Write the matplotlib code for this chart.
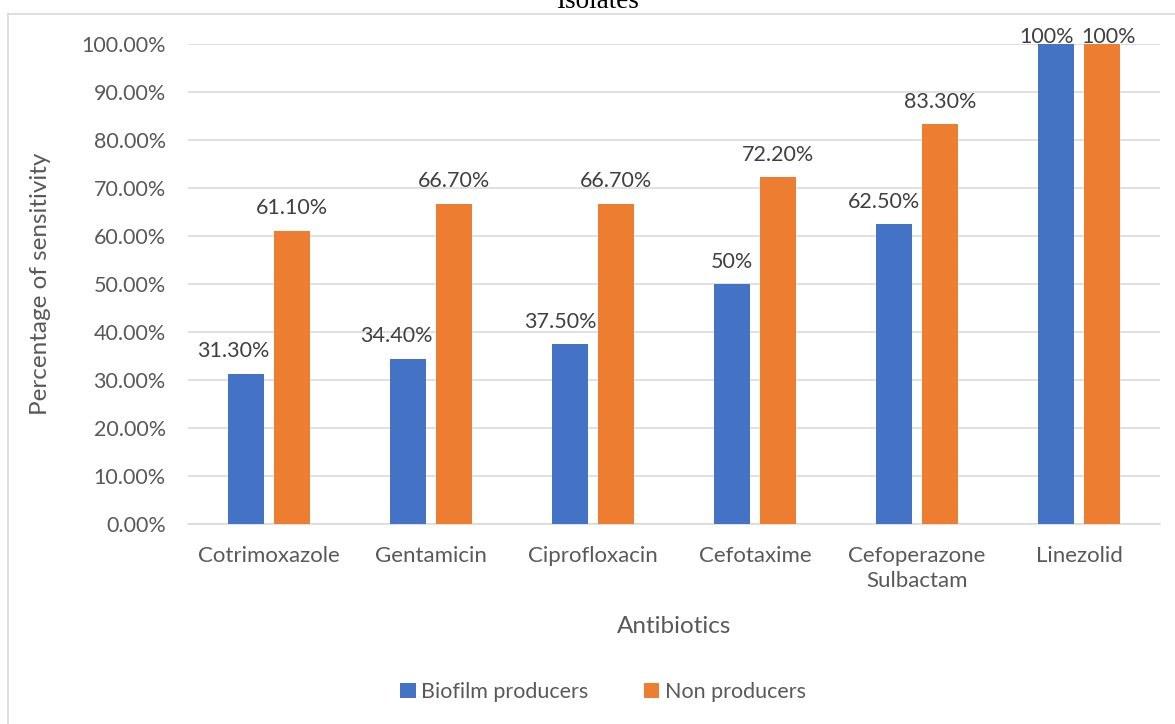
import matplotlib.pyplot as plt
import numpy as np
from matplotlib.lines import Line2D

# sensitivity (%) per antibiotic
antibiotics = ['Cotrimoxazole', 'Gentamicin', 'Ciprofloxacin', 'Cefotaxime',
               'Cefoperazone\nSulbactam', 'Linezolid']
biofilm = [31.3, 34.4, 37.5, 50.0, 62.5, 100.0]
non_prod = [61.1, 66.7, 66.7, 72.2, 83.3, 100.0]
biofilm_lbl = ['31.30%', '34.40%', '37.50%', '50%', '62.50%', '100%']
non_prod_lbl = ['61.10%', '66.70%', '66.70%', '72.20%', '83.30%', '100%']

plt.rcParams['font.family'] = ['Lato', 'DejaVu Sans']
txt = '#595959'
blue = '#4472C4'
orange = '#ED7D31'

W, H = 1175, 724
fig = plt.figure(figsize=(W / 100, H / 100), dpi=100)
ax = fig.add_axes([188 / W, 1 - 524 / H, 972 / W, 480 / H])

x = np.arange(len(antibiotics))
w = 0.228
off = 0.142
b1 = ax.bar(x - off, biofilm, w, color=blue, label='Biofilm producers', zorder=3)
b2 = ax.bar(x + off, non_prod, w, color=orange, label='Non producers', zorder=3)

# labels nudged sideways (px) where they would run into the next bar;
# the ones at the top of the scale sit right on the bar
nudge_b = [-13, -12, -10, 0, -10, -9]
nudge_o = [0, 0, 0, 0, 0, 7]
for bars, labels, nudge in ((b1, biofilm_lbl, nudge_b), (b2, non_prod_lbl, nudge_o)):
    for r, s, dx in zip(bars, labels, nudge):
        dy = 9 if r.get_height() < 100 else -2
        ax.annotate(s, (r.get_x() + r.get_width() / 2, r.get_height()),
                    xytext=(dx * 0.72, dy), textcoords='offset points',
                    ha='center', va='bottom', fontsize=15.5, color='#404040',
                    zorder=4)

ax.set_xlim(-0.5, len(antibiotics) - 0.5)
ax.set_ylim(0, 100)
ax.set_yticks(np.arange(0, 101, 10))
ax.set_yticklabels([f'{v:.2f}%' for v in range(0, 101, 10)])
ax.set_xticks(x)
ax.set_xticklabels(antibiotics, linespacing=1.3)
ax.tick_params(axis='y', length=0, labelsize=15.5, colors=txt, pad=16)
ax.tick_params(axis='x', length=0, labelsize=16, colors=txt, pad=16)
ax.grid(axis='y', color='#d9d9d9', linewidth=1.1, zorder=0)
for side in ('top', 'right', 'left'):
    ax.spines[side].set_visible(False)
ax.spines['bottom'].set_color('#d9d9d9')
ax.spines['bottom'].set_linewidth(1.1)

ax.set_ylabel('Percentage of sensitivity', fontsize=17.5, color=txt, labelpad=22)
ax.set_xlabel('Antibiotics', fontsize=17.5, color=txt, labelpad=18)

fig.legend(handles=[b1, b2], loc='center', bbox_to_anchor=(603 / W, 1 - 692 / H),
           ncol=2, frameon=False, fontsize=15.5, labelcolor=txt,
           handlelength=0.7, handleheight=0.7, handletextpad=0.25, columnspacing=2.6)

# outer chart frame and the clipped title above it
fig.add_artist(Line2D([8 / W, 1], [1 - 14 / H] * 2, color='#d9d9d9', lw=1.2,
                      transform=fig.transFigure))
fig.add_artist(Line2D([8 / W] * 2, [0, 1 - 14 / H], color='#d9d9d9', lw=1.2,
                      transform=fig.transFigure))
fig.text(597 / W, 1 - 8 / H, 'Isolates', ha='center', va='baseline',
         family='Liberation Serif', fontsize=19.5, color='#000000')

fig.savefig('out.png', dpi=100)
